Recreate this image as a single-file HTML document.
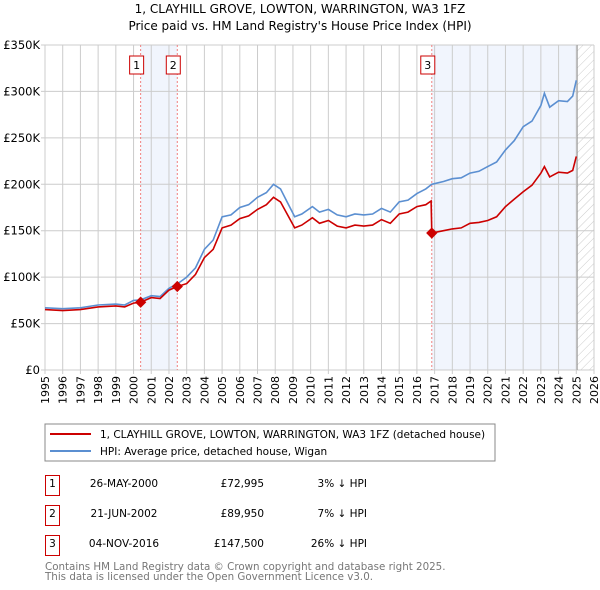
<!DOCTYPE html>
<html><head><meta charset="utf-8"><style>
body{margin:0;background:#fff;font-family:"Liberation Sans","DejaVu Sans",sans-serif;}
#wrap{position:relative;width:600px;height:590px;overflow:hidden}
svg text{font-family:"DejaVu Sans","Liberation Sans",sans-serif}
</style></head><body><div id="wrap">
<svg id="chart" width="600" height="590">
<text x="300" y="13" text-anchor="middle" font-size="12">1, CLAYHILL GROVE, LOWTON, WARRINGTON, WA3 1FZ</text>
<text x="300" y="30" text-anchor="middle" font-size="12">Price paid vs. HM Land Registry's House Price Index (HPI)</text>
<g id="plot"></g>
<rect x="45" y="424" width="450" height="37" fill="none" stroke="#888"/>
<line x1="50" y1="434" x2="91" y2="434" stroke="#cc0000" stroke-width="2"/>
<text x="100" y="438" font-size="10.5">1, CLAYHILL GROVE, LOWTON, WARRINGTON, WA3 1FZ (detached house)</text>
<line x1="50" y1="451" x2="91" y2="451" stroke="#5b8fd1" stroke-width="2"/>
<text x="100" y="455" font-size="10.5">HPI: Average price, detached house, Wigan</text>
<g font-size="10.5">
<rect x="45.5" y="475.5" width="14" height="20" fill="none" stroke="#cc0000"/><text x="52.5" y="487" text-anchor="middle">1</text>
<text x="124" y="487" text-anchor="middle">26-MAY-2000</text><text x="264" y="487" text-anchor="end">£72,995</text><text x="367" y="487" text-anchor="end">3% ↓ HPI</text>
<rect x="45.5" y="505.5" width="14" height="20" fill="none" stroke="#cc0000"/><text x="52.5" y="517" text-anchor="middle">2</text>
<text x="124" y="517" text-anchor="middle">21-JUN-2002</text><text x="264" y="517" text-anchor="end">£89,950</text><text x="367" y="517" text-anchor="end">7% ↓ HPI</text>
<rect x="45.5" y="535.5" width="14" height="20" fill="none" stroke="#cc0000"/><text x="52.5" y="547" text-anchor="middle">3</text>
<text x="124" y="547" text-anchor="middle">04-NOV-2016</text><text x="264" y="547" text-anchor="end">£147,500</text><text x="367" y="547" text-anchor="end">26% ↓ HPI</text>
</g>
<text x="45" y="570" font-size="10.3" fill="#777">Contains HM Land Registry data © Crown copyright and database right 2025.</text>
<text x="45" y="580" font-size="10.3" fill="#777">This data is licensed under the Open Government Licence v3.0.</text>
</svg></div>
<script>
const hpiYears=[1995,1996,1997,1998,1999,1999.5,2000,2000.4,2001,2001.5,2002,2002.5,2003,2003.5,2004,2004.5,2005,2005.5,2006,2006.5,2007,2007.5,2007.9,2008.3,2008.7,2009.1,2009.5,2010.1,2010.5,2011,2011.5,2012,2012.5,2013,2013.5,2014,2014.5,2015,2015.5,2016,2016.5,2016.84,2017.5,2018,2018.5,2019,2019.5,2020,2020.5,2021,2021.5,2022,2022.5,2023,2023.2,2023.5,2024,2024.5,2024.8,2025];
const hpiValues=[67000,66000,67000,70000,71000,70000,75000,75500,80000,79000,88000,93000,100000,110000,130000,140000,165000,167000,175000,178000,186000,191000,200000,195000,180000,165000,168000,176000,170000,173000,167000,165000,168000,167000,168000,174000,170000,181000,183000,190000,195000,200000,203000,206000,207000,212000,214000,219000,224000,237000,247000,262000,268000,285000,298000,283000,290000,289000,295000,312000];
const propYears=[1995,1996,1997,1998,1999,1999.5,2000,2000.4,2001,2001.5,2002,2002.47,2003,2003.5,2004,2004.5,2005,2005.5,2006,2006.5,2007,2007.5,2007.9,2008.3,2008.7,2009.1,2009.5,2010.1,2010.5,2011,2011.5,2012,2012.5,2013,2013.5,2014,2014.5,2015,2015.5,2016,2016.5,2016.8,2016.84,2017.5,2018,2018.5,2019,2019.5,2020,2020.5,2021,2021.5,2022,2022.5,2023,2023.2,2023.5,2024,2024.5,2024.8,2025];
const propValues=[65000,64000,65000,68000,69000,68000,72000,72995,78000,77000,86000,89950,93000,103000,121000,130000,153000,156000,163000,166000,173000,178000,186000,181000,167000,153000,156000,164000,158000,161000,155000,153000,156000,155000,156000,162000,158000,168000,170000,176000,178000,182000,147500,150000,152000,153000,158000,159000,161000,165000,176000,184000,192000,199000,212000,219000,208000,213000,212000,215000,230000];
const saleYears=[2000.4,2002.47,2016.84];
const salePrices=[72995,89950,147500];
const saleLabels=["1","2","3"];
const yTicks=[0,50000,100000,150000,200000,250000,300000,350000];
const yTickLabels=["£0","£50K","£100K","£150K","£200K","£250K","£300K","£350K"];
const xTicks=[1995,1996,1997,1998,1999,2000,2001,2002,2003,2004,2005,2006,2007,2008,2009,2010,2011,2012,2013,2014,2015,2016,2017,2018,2019,2020,2021,2022,2023,2024,2025,2026];

const NS="http://www.w3.org/2000/svg";
const X0=45,X1=594,Y0=370,Y1=45,xMin=1995,xMax=2026,yMax=350000,dataEnd=2025.05;
const xs=v=>X0+(v-xMin)/(xMax-xMin)*(X1-X0);
const ys=v=>Y0-v/yMax*(Y0-Y1);
const g=document.getElementById('plot');
function mk(t,a){const e=document.createElementNS(NS,t);for(const k in a)e.setAttribute(k,a[k]);g.appendChild(e);return e;}
const defs=mk('defs',{});
defs.innerHTML='<pattern id="hatch" width="6" height="6" patternUnits="userSpaceOnUse" patternTransform="rotate(45)"><line x1="0" y1="0" x2="0" y2="6" stroke="#ccc" stroke-width="1"/></pattern>';
let e=mk('rect',{x:xs(saleYears[0]),y:Y1,width:xs(saleYears[1])-xs(saleYears[0]),height:Y0-Y1,fill:'#eef3fc',opacity:0.8});


e=mk('rect',{x:xs(saleYears[2]),y:Y1,width:xs(dataEnd)-xs(saleYears[2]),height:Y0-Y1,fill:'#eef3fc',opacity:0.8});


e=mk('rect',{x:xs(dataEnd),y:Y1,width:X1-xs(dataEnd),height:Y0-Y1,fill:'url(#hatch)'});


xTicks.forEach(t=>{
 e=mk('line',{x1:xs(t),x2:xs(t),y1:Y1,y2:Y0+4,stroke:'#ccc'});
 
 
 e=mk('text',{x:0,y:0,'font-size':11,'text-anchor':'end',transform:`translate(${xs(t)+4},${Y0+6}) rotate(-90)`});
 e.textContent=t;
 
 
});
yTicks.forEach((t,i)=>{
 e=mk('line',{x1:X0-4,x2:X1,y1:ys(t),y2:ys(t),stroke:'#ccc'});
 
 
 e=mk('text',{x:X0-5,y:ys(t)+4,'font-size':11.5,'text-anchor':'end'});
 e.textContent=yTickLabels[i];
 
 
});
e=mk('line',{x1:xs(dataEnd),x2:xs(dataEnd),y1:Y1,y2:Y0,stroke:'#999'});


saleYears.forEach((s,i)=>{
 e=mk('line',{x1:xs(s),x2:xs(s),y1:Y1,y2:Y0,stroke:'#f08080','stroke-dasharray':'2,2'});
 
 
 e=mk('rect',{x:xs(s)-11,y:56,width:14,height:18,fill:'#fff',stroke:'#cc0000'});
 
 
 e=mk('text',{x:xs(s)-4,y:69,'font-size':11,'text-anchor':'middle'});
 e.textContent=saleLabels[i];
 
 
});
const pts=(xa,va)=>xa.map((x,i)=>xs(x).toFixed(1)+','+ys(va[i]).toFixed(1)).join(' ');
e=mk('polyline',{points:pts(hpiYears,hpiValues),fill:'none',stroke:'#5b8fd1','stroke-width':1.6});


e=mk('polyline',{points:pts(propYears,propValues),fill:'none',stroke:'#cc0000','stroke-width':1.6});


saleYears.forEach((s,i)=>{
 e=mk('rect',{x:xs(s)-4,y:ys(salePrices[i])-4,width:8,height:8,fill:'#cc0000',transform:`rotate(45 ${xs(s)} ${ys(salePrices[i])})`});
 
 
});
</script></body></html>
